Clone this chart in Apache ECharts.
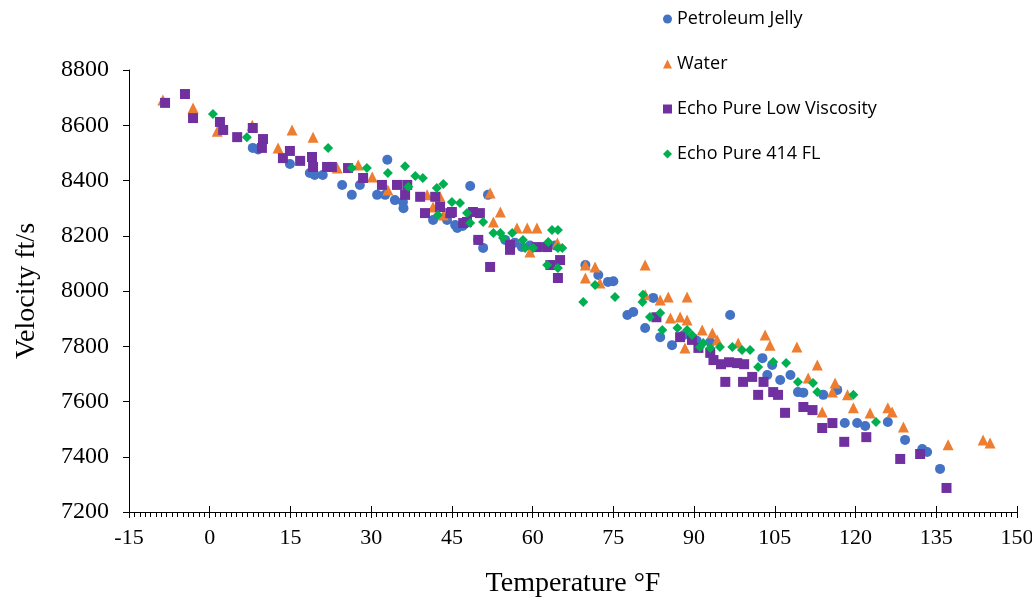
<!DOCTYPE html>
<html>
<head>
<meta charset="utf-8">
<script src="https://cdn.jsdelivr.net/npm/echarts@6/dist/echarts.min.js"></script>
<style>html,body{margin:0;padding:0;background:#fff;overflow:hidden}#c{width:1032px;height:604px}</style>
</head>
<body>
<div id="c"></div>
<script>
const seriesNames = ["Petroleum Jelly", "Water", "Echo Pure Low Viscosity", "Echo Pure 414 FL"];
const xTicks = { min: -15, max: 150, interval: 15 };
const yTicks = { min: 7200, max: 8800, interval: 200 };

const petroleumJelly = [
  [8.0,8518],[9.0,8512],[14.9,8460],[18.6,8427],[19.5,8420],[21.0,8420],[24.6,8384],[26.4,8348],
  [27.9,8384],[31.1,8348],[32.6,8348],[33.0,8475],[34.4,8329],[35.9,8322],[36.0,8300],[41.5,8257],
  [44.1,8257],[45.6,8239],[46.0,8228],[47.0,8235],[48.4,8380],[49.9,8185],[50.8,8156],[51.7,8348],
  [54.9,8185],[56.7,8175],[58.0,8159],[59.5,8165],[62.3,8160],[64.2,8165],[69.8,8094],[72.2,8058],
  [74.0,8033],[75.0,8035],[77.6,7913],[78.7,7924],[80.9,7866],[82.4,7975],[83.7,7833],[85.9,7804],
  [88.0,7840],[90.5,7820],[93.0,7815],[96.7,7913],[102.7,7757],[103.6,7696],[104.5,7732],[106.0,7678],
  [107.9,7696],[109.3,7634],[110.3,7632],[114.0,7624],[116.6,7642],[118.0,7522],[120.3,7522],[121.8,7511],
  [126.0,7526],[129.2,7461],[132.4,7428],[133.3,7417],[135.7,7356]
];
const water = [
  [-8.7,8691],[-3.1,8662],[1.4,8578],[7.9,8600],[12.7,8518],[15.3,8583],[19.2,8557],[23.7,8445],
  [27.6,8456],[30.2,8413],[33.1,8366],[40.4,8348],[41.5,8304],[42.8,8341],[43.4,8275],[52.1,8355],
  [52.7,8250],[54.0,8286],[57.1,8228],[59.0,8228],[60.8,8228],[59.5,8141],[64.6,8174],[69.8,8094],
  [71.6,8087],[69.8,8047],[72.5,8029],[80.9,8094],[80.9,7986],[83.7,7967],[85.2,7978],[88.7,7978],
  [85.6,7902],[87.4,7906],[88.7,7895],[88.3,7794],[91.5,7859],[93.4,7848],[94.3,7823],[98.2,7812],
  [103.2,7841],[104.1,7804],[109.1,7797],[112.9,7732],[111.2,7685],[113.8,7562],[115.7,7634],[116.2,7667],
  [118.5,7624],[119.6,7577],[122.7,7558],[126.0,7577],[126.8,7562],[128.9,7508],[137.2,7443],[143.7,7461],
  [145.0,7450]
];
const echoPureLowViscosity = [
  [-8.3,8681],[-4.6,8713],[-3.1,8626],[1.9,8612],[2.5,8583],[5.1,8557],[8.0,8590],[9.9,8550],
  [9.7,8518],[13.6,8481],[14.9,8507],[16.8,8471],[19.0,8485],[19.2,8449],[21.8,8449],[22.7,8449],
  [25.7,8445],[28.5,8409],[32.0,8384],[34.8,8384],[36.7,8384],[36.3,8348],[39.1,8341],[41.9,8341],
  [40.0,8282],[42.8,8304],[44.7,8282],[47.1,8246],[45.0,8286],[48.9,8286],[50.2,8282],[47.8,8250],
  [49.9,8185],[55.8,8167],[55.8,8149],[52.1,8087],[60.8,8159],[62.7,8159],[63.3,8094],[65.1,8112],
  [64.7,8047],[83.0,7905],[87.4,7833],[89.6,7823],[90.8,7794],[93.0,7776],[93.6,7750],[95.0,7735],
  [96.5,7742],[98.0,7739],[99.3,7735],[95.8,7671],[99.1,7671],[100.8,7689],[101.9,7624],[102.9,7671],
  [104.7,7634],[105.6,7624],[106.9,7559],[110.3,7580],[112.0,7569],[113.8,7504],[115.7,7522],[117.9,7454],
  [122.0,7471],[128.3,7392],[132.0,7410],[136.9,7287]
];
const echoPure414FL = [
  [0.6,8641],[6.9,8557],[22.0,8518],[26.4,8445],[29.2,8445],[33.1,8427],[36.3,8452],[38.2,8416],
  [39.6,8409],[36.9,8377],[42.2,8373],[43.4,8387],[45.0,8322],[46.5,8319],[42.4,8275],[47.8,8282],
  [48.4,8246],[50.8,8250],[52.7,8210],[54.0,8210],[54.5,8192],[56.2,8210],[58.2,8185],[58.6,8156],
  [60.1,8156],[62.9,8177],[63.6,8221],[64.7,8221],[64.7,8156],[65.5,8156],[62.7,8094],[64.7,8083],
  [71.6,8022],[69.4,7960],[75.3,7978],[80.5,7986],[80.4,7960],[81.8,7906],[83.7,7920],[84.1,7859],
  [86.9,7866],[88.7,7859],[89.6,7841],[91.1,7797],[93.0,7794],[94.8,7797],[91.7,7812],[97.1,7797],
  [98.9,7786],[100.4,7786],[101.9,7725],[104.7,7743],[107.1,7739],[109.3,7671],[112.1,7667],[112.9,7634],
  [119.6,7624],[123.8,7526]
];

const seriesData = [petroleumJelly, water, echoPureLowViscosity, echoPure414FL];
const colors = ["#4472C4", "#ED7D31", "#7030A0", "#00B050"];
const symbols = ["circle", "triangle", "rect", "diamond"];
const sizes = [10, 11, 10, 10];

const serif = "'Liberation Serif', 'Times New Roman', serif";
const chart = echarts.init(document.getElementById('c'), null, { renderer: 'canvas' });
const axisLineStyle = { color: '#000', width: 1 };

chart.setOption({
  animation: false,
  backgroundColor: '#fff',
  grid: { left: 129, right: 15, top: 70, bottom: 92, containLabel: false, outerBoundsMode: 'none' },
  legend: {
    orient: 'vertical', left: 658, top: 4,
    itemWidth: 9, itemHeight: 9, itemGap: 25,
    textStyle: { fontFamily: "'Open Sans', sans-serif", fontSize: 18, color: '#000', lineHeight: 20 },
    data: seriesNames
  },
  xAxis: [{
    type: 'value', min: xTicks.min, max: xTicks.max, interval: xTicks.interval,
    name: 'Temperature °F', nameLocation: 'middle', nameGap: 58,
    nameTextStyle: { fontFamily: serif, fontSize: 28, color: '#000' },
    axisLine: { show: true, onZero: false, lineStyle: axisLineStyle },
    axisTick: { show: true, inside: false, length: 6, lineStyle: axisLineStyle },
    minorTick: { show: true, splitNumber: 15, length: 5, lineStyle: { color: '#000', width: 1 } },
    axisLabel: { fontFamily: serif, fontSize: 22, color: '#000', margin: 15, formatter: v => String(v) },
    splitLine: { show: false }
  }, {
    type: 'value', min: xTicks.min, max: xTicks.max, interval: xTicks.interval, position: 'bottom',
    axisLine: { show: false },
    axisTick: { show: true, inside: true, length: 6, lineStyle: axisLineStyle },
    axisLabel: { show: false }, splitLine: { show: false }
  }],
  yAxis: {
    type: 'value', min: yTicks.min, max: yTicks.max, interval: yTicks.interval,
    name: 'Velocity ft/s', nameLocation: 'middle', nameGap: 88,
    nameTextStyle: { fontFamily: serif, fontSize: 28, color: '#000' },
    axisLine: { show: true, onZero: false, lineStyle: axisLineStyle },
    axisTick: { show: true, inside: false, length: 6, lineStyle: axisLineStyle },
    axisLabel: { fontFamily: serif, fontSize: 24, color: '#000', margin: 20, formatter: v => String(v) },
    splitLine: { show: false }
  },
  series: seriesNames.map((n, i) => ({
    name: n, type: 'scatter', xAxisIndex: 0,
    data: seriesData[i], symbol: symbols[i], symbolSize: sizes[i],
    itemStyle: { color: colors[i], opacity: 1 }
  }))
});
</script>
</body>
</html>
